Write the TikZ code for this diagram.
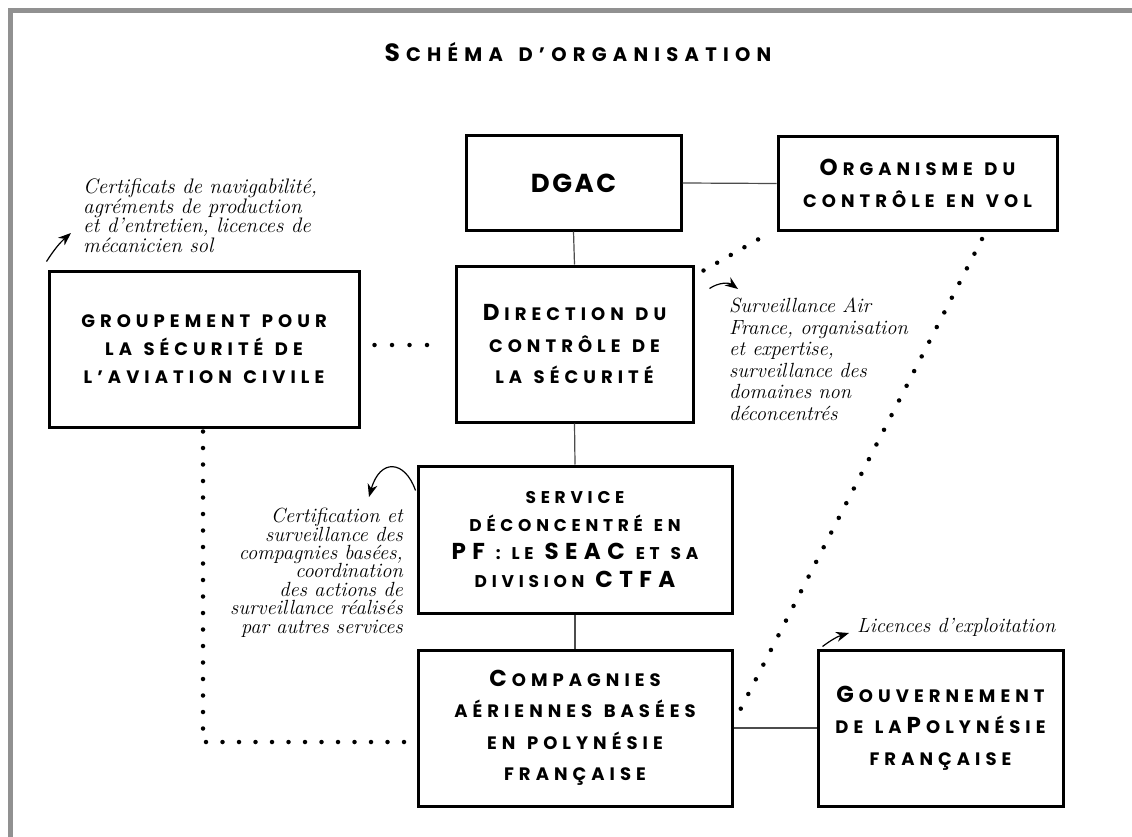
\documentclass[tikz,border=0pt]{standalone}
\usepackage{fontspec}
\usetikzlibrary{arrows.meta,calc}
\newfontfamily\scf[LetterSpace=28,WordSpace=1.3]{Poppins}
\newfontfamily\dgf[LetterSpace=10]{Poppins}
\newfontfamily\ttlf[LetterSpace=32,WordSpace=1.5]{Poppins}
\definecolor{framegray}{RGB}{145,145,145}
\newcommand\Bg[1]{{\fontsize{23}{30}\selectfont #1}}
\newcommand\Bl[1]{\Bg{#1}\kern5pt}
\newcommand\boxfont{\scf\bfseries\fontsize{18}{31.5}\selectfont}
\newcommand\boxfontsm{\scf\bfseries\fontsize{17}{28.3}\selectfont}
\newcommand\boxfontgr{\scf\bfseries\fontsize{18}{28.3}\selectfont}
\newcommand\notefont[2]{\itshape\fontsize{#1}{#2}\selectfont\lineskiplimit=-30pt}
\begin{document}
\begin{tikzpicture}[x=1pt,y=-1pt,
  box/.style={draw=black,line width=3pt,align=center,inner sep=0pt,font=\boxfont},
  link/.style={draw=black!70,line width=1.2pt},
  dots/.style={line width=4.5pt,line cap=round,dash pattern=on 0pt off 16.5pt},
  note/.style={inner sep=0pt},
  annarrow/.style={-{Stealth[length=13pt,width=10pt]},line width=1.2pt}]
\useasboundingbox (0,0) rectangle (1132,837);
\fill[white] (0,0) rectangle (1132,837);
\draw[framegray,line width=5pt] (10.5,837) -- (10.5,10.5) -- (1132,10.5);

% title
\node[font={\ttlf\bfseries\fontsize{19.5}{24}\selectfont},anchor=base] (title) at (578,62)
  {{\fontsize{25}{30}\selectfont S}\kern6pt CHÉMA D’ORGANISATION};

% boxes
\node[box,minimum width=215pt,minimum height=94pt] (dgac) at (573.5,183)
  {\dgf\fontsize{26}{30}\selectfont DGAC};
\node[box,minimum width=279pt,minimum height=93pt] (org) at (917.5,183.5)
  {\Bl{O}RGANISME DU\\CONTRÔLE EN VOL};
\node[box,minimum width=237pt,minimum height=156pt] (dir) at (574.5,344)
  {\Bl{D}IRECTION DU\\CONTRÔLE DE\\LA SÉCURITÉ};
\node[box,font=\boxfontgr,minimum width=310pt,minimum height=156pt] (grp) at (204,349)
  {GROUPEMENT POUR\\LA SÉCURITÉ DE\\L’AVIATION CIVILE};
\node[box,font=\boxfontsm,minimum width=314pt,minimum height=147pt] (svc) at (575,539.5)
  {SERVICE\\DÉCONCENTRÉ EN\\\Bg{PF} : LE \Bg{SEAC} ET SA\\DIVISION \Bg{CTFA}};
\node[box,minimum width=314pt,minimum height=156pt] (comp) at (575,728)
  {\Bl{C}OMPAGNIES\\AÉRIENNES BASÉES\\EN POLYNÉSIE\\FRANÇAISE};
\node[box,minimum width=245pt,minimum height=156pt] (gov) at (940.5,728)
  {\Bl{G}OUVERNEMENT\\DE LA\kern5pt\Bl{P}OLYNÉSIE\\FRANÇAISE};

% solid links
\draw[link] (dgac.east) -- (org.west);
\draw[link] (dgac.south) -- (dir.north);
\draw[link] (dir.south) -- (svc.north);
\draw[link] (svc.south) -- (comp.north);
\draw[link] (comp.east) -- (gov.west);

% dotted links
\draw[dots,dash pattern=on 0pt off 17.5pt] ($(grp.east)+(14,-4)$) -- ($(dir.west)+(-12.4,1)$);
\coordinate (corner) at (203,742);
\draw[dots] ($(grp.south)+(-1,3)$) -- (corner) -- (comp.west |- corner);
\draw[dots,dash pattern=on 0pt off 15.7pt] ($(dir.north east)+(9,6)$) -- ($(org.south west)+(-8,2)$);
\draw[dots] ($(org.south)+(64.5,7.5)$) -- ($(comp.east)+(4,-13)$);

% annotations
\node[note,anchor=north west,align=left,font={\notefont{21}{19.5}}] (n1) at (83,179)
  {Certificats de navigabilité,\\agréments de production\\et d’entretien, licences de\\mécanicien sol};
\coordinate (a1) at (71,233);
\draw[annarrow] ($(grp.north west)+(-1,-8)$) to[bend left=8] (a1);

\node[note,anchor=north west,align=left,font={\notefont{20.5}{21.5}}] (n2) at (729,298)
  {Surveillance Air\\France, organisation\\et expertise,\\surveillance des\\domaines non\\déconcentrés};
\coordinate (a2) at (738,289);
\draw[annarrow] ($(dir.north east)+(15,24)$) to[bend left=35] (a2);

\node[note,anchor=north east,align=right,font={\notefont{20.5}{18.4}}] (n3) at (403,508)
  {Certification et\\surveillance des\\compagnies basées,\\coordination\\des actions de\\surveillance réalisés\\par autres services};
\coordinate (a3) at (369,497);
\draw[annarrow] ($(svc.north west)+(-1,26)$) .. controls (405,460) and (380,458) .. (a3);

\node[note,anchor=north west,font={\notefont{20.5}{20}}] (n4) at (857,618) {Licences d’exploitation};
\coordinate (a4) at (849,633);
\draw[annarrow] ($(gov.north west)+(6,-2)$) to[bend left=10] (a4);
\end{tikzpicture}
\end{document}
